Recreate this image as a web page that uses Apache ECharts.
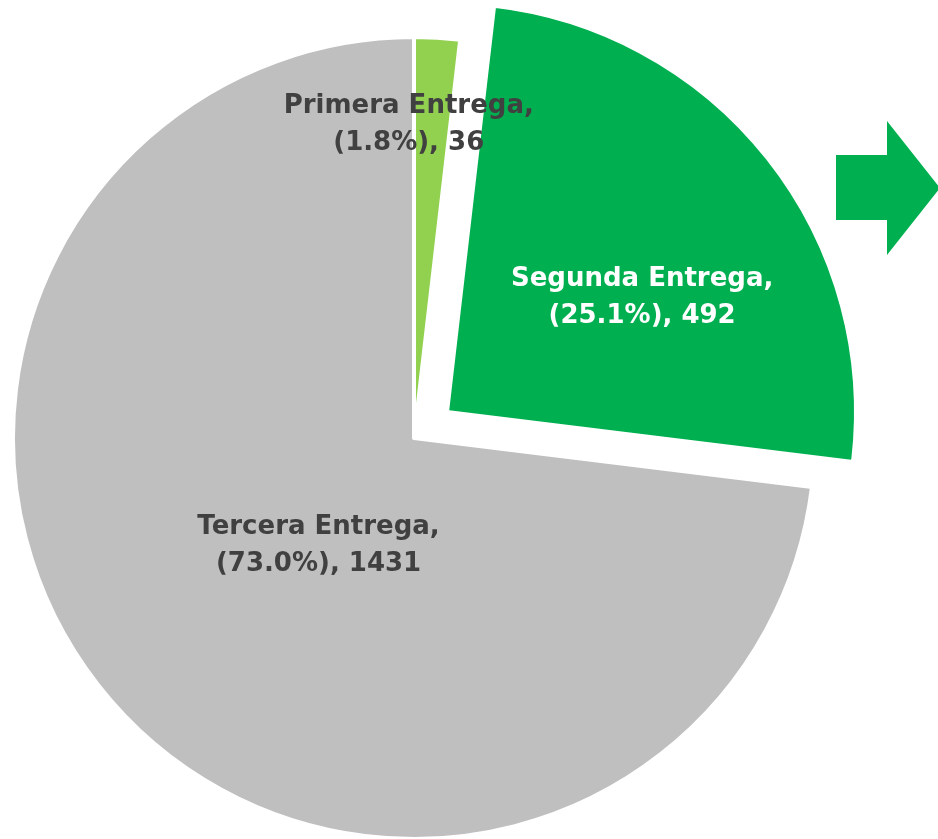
<!DOCTYPE html>
<html>
<head>
<meta charset="utf-8">
<script src="https://cdn.jsdelivr.net/npm/echarts@6/dist/echarts.min.js"></script>
<style>
  html, body { margin: 0; padding: 0; background: #fff; }
  #main { width: 938px; height: 839px; }
</style>
</head>
<body>
<div id="main"></div>
<script>
// datos del grafico
var categories = ["Primera Entrega", "Segunda Entrega", "Tercera Entrega"];
var values = [36, 492, 1431];
var sliceColors = ["#92D050", "#00B050", "#BFBFBF"];
var labelColors = ["#404040", "#ffffff", "#404040"];
// desplazamiento de cada etiqueta respecto a su posicion "inside"
var labelOffsets = [[-17, -110], [32, 14], [57, -27]];
var explodedIndex = 1;

var total = values.reduce(function (a, b) { return a + b; }, 0);

var chart = echarts.init(document.getElementById("main"));

// build data for one series; only the slices in "visible" get drawn
function buildData(visibleFn) {
  var out = [];
  for (var i = 0; i < categories.length; i++) {
    var vis = visibleFn(i);
    var item = {
      name: categories[i],
      value: values[i],
      selected: i === explodedIndex,
      itemStyle: vis
        ? { color: sliceColors[i], borderColor: "#ffffff", borderWidth: 4 }
        : { color: "transparent", borderWidth: 0 },
      label: vis
        ? { show: true, color: labelColors[i], offset: labelOffsets[i] }
        : { show: false }
    };
    item.select = { label: item.label, itemStyle: item.itemStyle };
    out.push(item);
  }
  return out;
}

var baseSeries = {
  type: "pie",
  center: [414, 438],
  startAngle: 90,
  clockwise: true,
  selectedMode: "single",
  selectedOffset: 42,
  emphasis: { disabled: true },
  label: {
    position: "inside",
    formatter: function (p) {
      return p.name + ",\n(" + (p.value / total * 100).toFixed(1) + "%), " + p.value;
    },
    fontFamily: "DejaVu Sans",
    fontWeight: "bold",
    fontSize: 26,
    lineHeight: 37,
    align: "center"
  },
  labelLine: { show: false }
};

chart.setOption({
  animation: false,
  series: [
    Object.assign({}, baseSeries, {
      radius: 401,
      data: buildData(function (i) { return i !== explodedIndex; })
    }),
    Object.assign({}, baseSeries, {
      radius: 409,
      data: buildData(function (i) { return i === explodedIndex; })
    })
  ],
  graphic: [
    {
      type: "polygon",
      shape: {
        points: [[836, 155], [887, 155], [887, 121], [940, 188], [887, 255], [887, 220], [836, 220]]
      },
      style: { fill: "#00B050" }
    }
  ]
});
</script>
</body>
</html>
